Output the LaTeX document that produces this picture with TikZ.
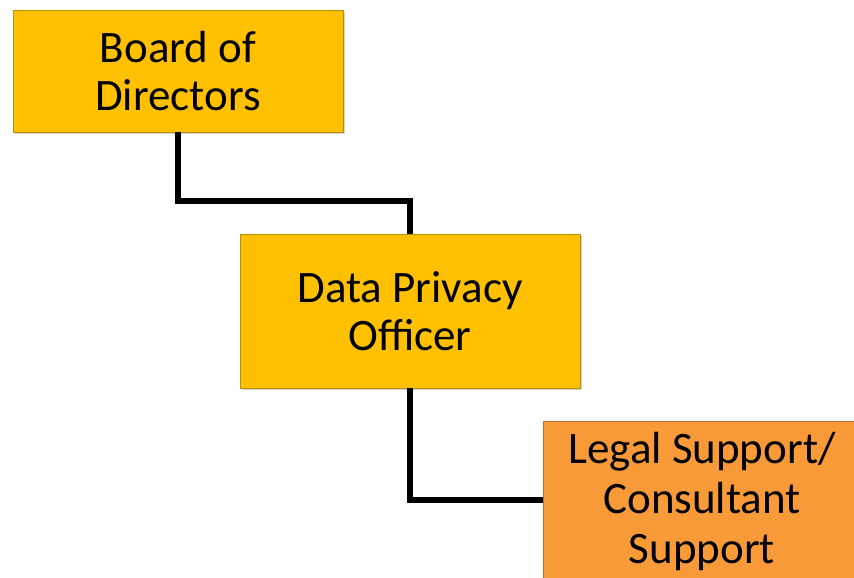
\documentclass[tikz,border=0pt]{standalone}
\usepackage{fontspec}
\setmainfont{Carlito}
\usetikzlibrary{shadows}
\definecolor{boxyellow}{HTML}{FFC000}
\definecolor{boxorange}{HTML}{F99A38}
\definecolor{edgeyellow}{HTML}{B8900C}
\definecolor{edgeorange}{HTML}{B87030}
\begin{document}
\begin{tikzpicture}[x=1pt,y=-1pt,
  orgbox/.style={draw=edgeyellow, line width=0.8pt, fill=boxyellow, align=center, inner sep=0pt,
    font=\fontsize{45}{48}\selectfont,
    drop shadow={shadow xshift=1.5pt, shadow yshift=-1.5pt, opacity=0.35}},
  link/.style={line width=5.5pt, black}]
\useasboundingbox (0,0) rectangle (854,578);
\clip (0,0) rectangle (854,578);
\node[orgbox, minimum width=330pt, minimum height=122pt] (bod) at (178,71) {Board of\\Directors};
\node[orgbox, minimum width=340pt, minimum height=154pt] (dpo) at (410,311) {Data Privacy\\Officer};
\node[orgbox, draw=edgeorange, fill=boxorange, minimum width=318pt, minimum height=165pt, anchor=north west] (legal) at (543,421) {};
\node[font=\fontsize{45}{50}\selectfont, align=center, anchor=north, inner sep=0pt] (legaltext) at (702,432) {Legal Support/\\Consultant\\Support};
\coordinate (j1) at (178,201);
\coordinate (j2) at (410,201);
\coordinate (j3) at (410,500);
\draw[link] (bod.south -| j1) -- (j1) -- (j2) -- (dpo.north -| j2);
\draw[link] (dpo.south -| j3) -- (j3) -- (legal.west |- j3);
\end{tikzpicture}
\end{document}
